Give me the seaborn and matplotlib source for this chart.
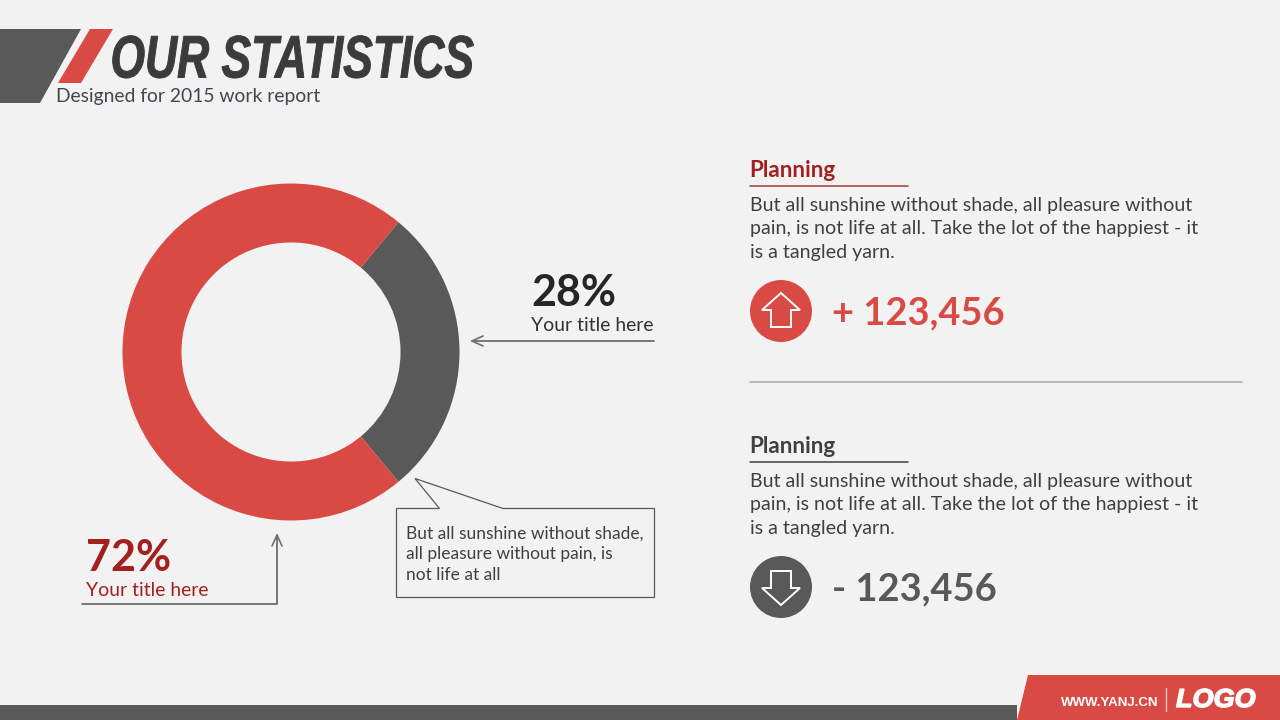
import matplotlib
matplotlib.use("Agg")
import matplotlib.pyplot as plt
from matplotlib.patches import Polygon, Circle, Rectangle
from matplotlib.patheffects import AbstractPathEffect
from matplotlib.transforms import Affine2D
import seaborn as sns

# data
shares = [28, 72]
share_labels = ["28%", "72%"]
share_titles = ["Your title here", "Your title here"]
section_title = "Planning"
section_body = ["But all sunshine without shade, all pleasure without",
                "pain, is not life at all. Take the lot of the happiest - it",
                "is a tangled yarn."]
deltas = ["+ 123,456", "- 123,456"]
callout = ["But all sunshine without shade,", "all pleasure without pain, is", "not life at all"]

BG = "#f2f2f2"; RED = "#d94a45"; DARK = "#595959"; DEEP = "#a32020"; TXT = "#404040"; LINE = "#6e6e6e"


class Stretch(AbstractPathEffect):
    """Redraw a text's outline with a horizontal scale and optional extra weight."""
    def __init__(self, xscale=1.0, stroke=0.0):
        super().__init__()
        self.xscale, self.stroke = xscale, stroke

    def draw_path(self, renderer, gc, tpath, affine, rgbFace=None):
        gc0 = renderer.new_gc()
        gc0.copy_properties(gc)
        gc0.set_linewidth(self.stroke)
        if rgbFace is not None:
            gc0.set_foreground(rgbFace)
        renderer.draw_path(gc0, tpath, Affine2D().scale(self.xscale, 1) + affine, rgbFace)
        gc0.restore()


sns.set_theme(style="white", rc={"figure.facecolor": BG, "axes.facecolor": BG})
plt.rcParams["font.family"] = ["Lato", "DejaVu Sans"]
W, H = 1280, 720
fig = plt.figure(figsize=(12.8, 7.2), dpi=100, facecolor=BG)

# donut
L, T, D = 122.5, 183.5, 337
pie_ax = fig.add_axes([L / W, 1 - (T + D) / H, D / W, D / H])
pie_ax.pie(shares, colors=[DARK, RED], startangle=-50.4, radius=1,
           wedgeprops=dict(width=0.35, edgecolor="none"))
pie_ax.set_xlim(-1, 1); pie_ax.set_ylim(-1, 1); pie_ax.set_aspect("equal"); pie_ax.axis("off")

ax = fig.add_axes([0, 0, 1, 1], zorder=3)
ax.set_xlim(0, W); ax.set_ylim(H, 0); ax.axis("off"); ax.patch.set_alpha(0)

def poly(pts, fc, ec="none", lw=0, closed=True, z=2):
    ax.add_patch(Polygon(pts, closed=closed, fc=fc, ec=ec, lw=lw, zorder=z, joinstyle="miter"))

def px(s):
    return s * 0.72

def txt(x, y, s, size, color=TXT, weight="normal", **kw):
    return ax.text(x, y, s, fontsize=px(size), color=color, fontweight=weight, va="baseline", ha="left", **kw)

# header
poly([(0, 29), (81, 29), (40, 103), (0, 103)], DARK)
poly([(90, 29), (113, 29), (81, 83), (58, 83)], RED)
ax.text(110.5, 77.5, "OUR STATISTICS", fontsize=px(60), color="#3b3b3d", fontweight="bold", style="italic",
        family="Liberation Sans", va="baseline", ha="left", path_effects=[Stretch(0.74, 0.7)])
txt(56.5, 102, "Designed for 2015 work report", 19.3, color="#44464c")

# footer
ax.add_patch(Rectangle((0, 705), 1017, 15, fc=DARK, ec="none"))
poly([(1028, 675), (1280, 675), (1280, 720), (1017, 720)], RED)
ax.text(1061, 705.5, "WWW.YANJ.CN", fontsize=px(13.2), color="white", fontweight="bold",
        family="Liberation Sans", va="baseline")
ax.plot([1165.5, 1165.5], [688, 711], color="#f2c9c7", lw=1)
ax.text(1176, 707, "LOGO", fontsize=px(26), color="white", fontweight="bold", style="italic",
        family="Liberation Sans", va="baseline", path_effects=[Stretch(1.04, 1.0)])

# 28% label
txt(531, 306, share_labels[0], 43, color="#262626", weight="bold")
txt(531, 331, share_titles[0], 19.4, color="#333333")
ax.plot([654, 472], [341, 341], color=LINE, lw=1.3)
ax.plot([483, 472, 483], [336, 341, 346], color=LINE, lw=1.2)

# 72% label
txt(86, 571, share_labels[1], 43, color=DEEP, weight="bold")
txt(86, 596, share_titles[1], 19.4, color=DEEP)
ax.plot([82, 277, 277], [604, 604, 535], color=LINE, lw=1.3)
ax.plot([272, 277, 282], [546, 535, 546], color=LINE, lw=1.2)

# callout
poly([(396.5, 508.5), (439.5, 508.5), (415, 478.5), (503, 508.5), (654.5, 508.5), (654.5, 597.5), (396.5, 597.5)],
     "none", ec="#595959", lw=0.9)
for i, line in enumerate(callout):
    txt(406, 539 + i * 20.5, line, 17.4, color="#404040")

# right panels
def panel(y0, head_color, rule_color, delta, delta_color, circ_color, up):
    txt(749.5, y0, section_title, 22.5, color=head_color, weight="bold")
    ax.plot([749.5, 908], [y0 + 9, y0 + 9], color=rule_color, lw=1.1)
    for i, line in enumerate(section_body):
        txt(749.5, y0 + 34 + i * 23.3, line, 19.7, color="#404040")
    cy = y0 + 134
    ax.add_patch(Circle((781, cy), 31, fc=circ_color, ec="none", zorder=2))
    s = 1 if up else -1
    arrow = [(781, cy - s * 18), (800, cy - s * 1), (791, cy - s * 1), (791, cy + s * 16),
             (771, cy + s * 16), (771, cy - s * 1), (762, cy - s * 1)]
    poly(arrow, "none", ec="white", lw=1.4, z=3)
    txt(832.5, cy + 13, delta, 38, color=delta_color, weight="bold")

panel(177, DEEP, "#a83a36", deltas[0], RED, RED, True)
panel(453, TXT, "#404040", deltas[1], DARK, DARK, False)
ax.plot([750, 1242], [381.5, 381.5], color="#a6a6a6", lw=1.1)

fig.savefig("out.png", dpi=100, facecolor=BG)
